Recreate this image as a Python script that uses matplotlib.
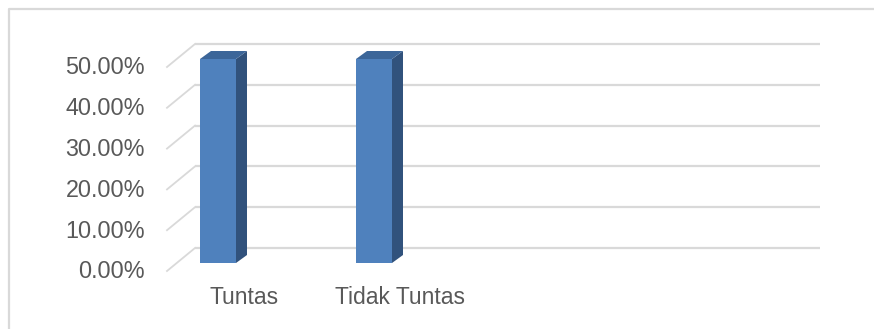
import numpy as np
import matplotlib.pyplot as plt
from matplotlib.patches import Polygon, Rectangle

categories = ['Tuntas', 'Tidak Tuntas']
values = [50.0, 50.0]          # percent
ticks = [0, 10, 20, 30, 40, 50]

plt.rcParams['font.family'] = ['Liberation Sans', 'DejaVu Sans']

W, H = 874, 329
fig = plt.figure(figsize=(W / 100, H / 100), dpi=100)
ax = fig.add_axes([0, 0, 1, 1])
ax.axis('off')

# y axis in value units: back wall 0% at pixel 248, 50% at pixel 44
ppu = (248 - 44) / 50.0
ax.set_xlim(0, W)
ax.set_ylim((248 - H) / ppu, 248 / ppu)

# depth of the floor (pixels -> data)
dx_depth, dy_depth = -28, -23 / ppu
wall_x0, wall_x1 = 195, 820
grid_col = '#d9d9d9'

for t in ticks:
    ax.plot([wall_x0, wall_x1], [t, t], color=grid_col, lw=1.6,
            solid_capstyle='butt', zorder=1)
    ax.plot([wall_x0, wall_x0 + dx_depth], [t, t + dy_depth], color=grid_col,
            lw=1.3, zorder=1)
    ax.text(145, t + dy_depth - 0.2, f'{t:.2f}%', ha='right', va='center',
            fontsize=16.8, color='#595959')

# bars
x_first, spacing, half_w = 218, 156, 18
bar_off = -15 / ppu           # front face offset from back wall
side_dx, side_dy = 11, 8 / ppu
front_c, side_c, top_c = '#4f81bd', '#31527c', '#3c6699'

for i, (cat, v) in enumerate(zip(categories, values)):
    cx = x_first + i * spacing
    x0, x1 = cx - half_w, cx + half_w
    y0, y1 = bar_off, v + bar_off
    ax.add_patch(Polygon([(x1, y0), (x1 + side_dx, y0 + side_dy),
                          (x1 + side_dx, y1 + side_dy), (x1, y1)],
                         closed=True, facecolor=side_c, edgecolor='none', zorder=3))
    ax.add_patch(Polygon([(x0, y1), (x1, y1), (x1 + side_dx, y1 + side_dy),
                          (x0 + side_dx, y1 + side_dy)],
                         closed=True, facecolor=top_c, edgecolor='none', zorder=3))
    ax.add_patch(Rectangle((x0, y0), x1 - x0, y1 - y0,
                           facecolor=front_c, edgecolor='none', zorder=4))
    ax.text(cx + 26, (248 - 298) / ppu, cat, ha='center', va='center',
            fontsize=16.5, color='#595959')

# chart frame (runs off the right and bottom of the image)
ax.plot([9, 9, W + 5], [(248 - H - 5) / ppu, (248 - 8.5) / ppu, (248 - 8.5) / ppu],
        color='#d9d9d9', lw=1.6)

fig.savefig('out.png', dpi=100)
